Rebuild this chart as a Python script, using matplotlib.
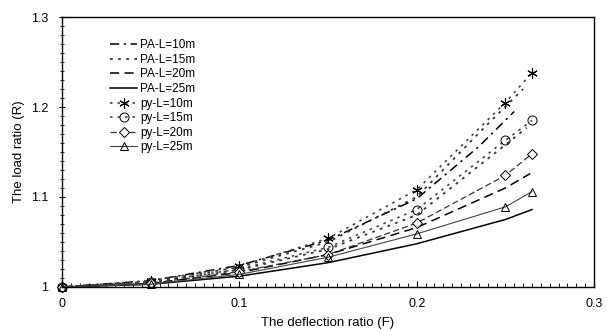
import matplotlib.pyplot as plt
from matplotlib.ticker import MultipleLocator

plt.rcParams['font.family'] = ['Liberation Sans', 'DejaVu Sans']

# py curves (with markers)
f_py = [0, 0.05, 0.1, 0.15, 0.2, 0.25, 0.265]
py_10 = [1.0, 1.007, 1.023, 1.054, 1.108, 1.205, 1.238]
py_15 = [1.0, 1.005, 1.020, 1.044, 1.086, 1.163, 1.185]
py_20 = [1.0, 1.004, 1.017, 1.036, 1.071, 1.124, 1.148]
py_25 = [1.0, 1.003, 1.014, 1.033, 1.059, 1.089, 1.106]

# PA curves
f_pa10 = [0, 0.05, 0.1, 0.15, 0.2, 0.235, 0.255]
pa_10 = [1.0, 1.007, 1.024, 1.052, 1.098, 1.156, 1.195]
f_pa15 = [0, 0.05, 0.1, 0.15, 0.2, 0.238, 0.26]
pa_15 = [1.0, 1.006, 1.022, 1.050, 1.100, 1.177, 1.220]
f_pa20 = [0, 0.05, 0.1, 0.15, 0.2, 0.25, 0.264]
pa_20 = [1.0, 1.004, 1.016, 1.036, 1.066, 1.110, 1.126]
f_pa25 = [0, 0.05, 0.1, 0.15, 0.2, 0.25, 0.265]
pa_25 = [1.0, 1.003, 1.012, 1.027, 1.048, 1.075, 1.086]

# extra unlabeled dotted curve
f_extra = [0, 0.05, 0.1, 0.15, 0.2, 0.25, 0.262]
extra = [1.0, 1.005, 1.019, 1.042, 1.080, 1.158, 1.177]

x_ticks = [0, 0.1, 0.2, 0.3]
x_labels = ['0', '0.1', '0.2', '0.3']
y_ticks = [1.0, 1.1, 1.2, 1.3]
y_labels = ['1', '1.1', '1.2', '1.3']

fig = plt.figure(figsize=(6.06, 3.31), dpi=100)
ax = fig.add_axes([0.1023, 0.133, 0.878, 0.8156])

ax.plot(f_pa10, pa_10, color='k', lw=1.1, dashes=(6, 3, 1.5, 3), label='PA-L=10m')
ax.plot(f_pa15, pa_15, color='#333333', lw=1.3, dashes=(1.5, 3), label='PA-L=15m')
ax.plot(f_pa20, pa_20, color='k', lw=1.1, dashes=(6, 3.5), label='PA-L=20m')
ax.plot(f_pa25, pa_25, color='k', lw=1.1, label='PA-L=25m')
ax.plot(f_extra, extra, color='#333333', lw=1.3, dashes=(1.5, 3))

ax.plot(f_py, py_10, color='#444444', lw=1.2, dashes=(1.5, 3), marker=(6, 2, 0),
        ms=7.5, mec='k', mew=0.8, label='py-L=10m', clip_on=False)
ax.plot(f_py, py_15, color='#444444', lw=1.2, dashes=(1.5, 3), marker='o',
        ms=6.5, mfc='none', mec='k', mew=0.7, label='py-L=15m', clip_on=False)
ax.plot(f_py, py_20, color='#333333', lw=0.9, dashes=(5, 2.5), marker='D',
        ms=4.8, mfc='white', mec='k', mew=0.7, label='py-L=20m', clip_on=False)
ax.plot(f_py, py_25, color='#444444', lw=0.8, marker='^',
        ms=5.5, mfc='none', mec='k', mew=0.7, label='py-L=25m', clip_on=False)

ax.set_xlim(0, 0.3)
ax.set_ylim(1.0, 1.3)
ax.set_xticks(x_ticks)
ax.set_xticklabels(x_labels)
ax.set_yticks(y_ticks)
ax.set_yticklabels(y_labels)
ax.xaxis.set_minor_locator(MultipleLocator(0.005))
ax.yaxis.set_minor_locator(MultipleLocator(0.01))
ax.tick_params(which='both', direction='in', labelsize=9, pad=8)
ax.tick_params(which='major', length=4, width=0.8)
ax.tick_params(which='minor', length=3, width=0.6)
ax.tick_params(axis='y', which='both', direction='inout')
for s in ax.spines.values():
    s.set_linewidth(1.0)

ax.set_xlabel('The deflection ratio (F)', fontsize=9.5, labelpad=5)
ax.set_ylabel('The load ratio (R)', fontsize=9.5, labelpad=4)

ax.legend(loc='upper left', bbox_to_anchor=(0.082, 0.935), frameon=False,
          fontsize=8.5, handlelength=2.3, handletextpad=0.2, labelspacing=0.22,
          borderaxespad=0)

fig.savefig('out.png', dpi=100)
